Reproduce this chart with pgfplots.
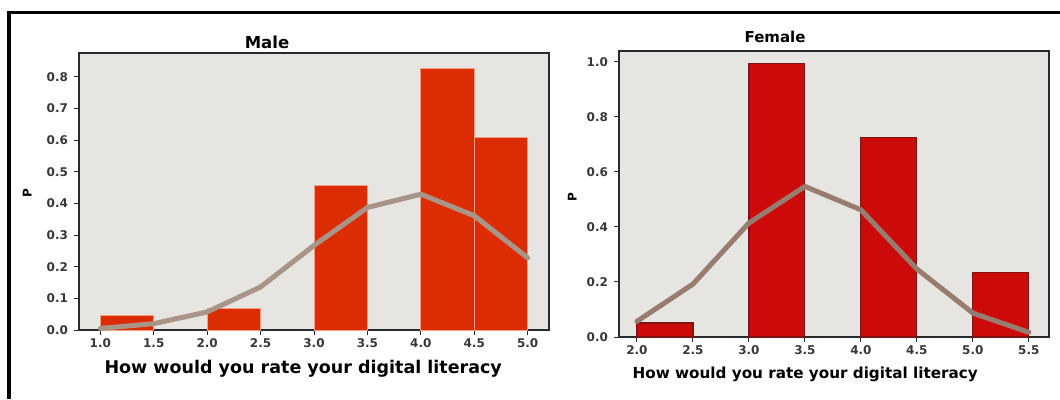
\documentclass[border=0pt]{standalone}
\usepackage{fontspec}
\setmainfont{DejaVu Sans}
\usepackage{pgfplots}
\pgfplotsset{compat=1.18}

\definecolor{panelbg}{HTML}{E7E5E1}
\definecolor{malebar}{HTML}{DC2C04}
\definecolor{maleedge}{HTML}{F2A080}
\definecolor{femalebar}{HTML}{CC0A0A}
\definecolor{femaleedge}{HTML}{7E1410}
\definecolor{maleline}{HTML}{A99488}
\definecolor{femaleline}{HTML}{987C70}
\definecolor{axisgray}{HTML}{2A2A2A}

\pgfplotsset{
  panel/.style={
    scale only axis,
    anchor=south west,
    axis background/.style={fill=panelbg},
    axis line style={line width=1.2pt, axisgray},
    tick pos=left,
    tick align=outside,
    major tick length=5pt,
    tick style={line width=1pt, axisgray},
    ticklabel style={font=\bfseries\fontsize{12}{12}\selectfont, text=black!78,
      /pgf/number format/assume math mode=true,
      /pgf/number format/fixed, /pgf/number format/fixed zerofill,
      /pgf/number format/precision=1},
    yticklabel style={xshift=-2.5pt},
    title style={anchor=center, font=\bfseries},
    xlabel style={anchor=center, font=\bfseries},
    ylabel style={anchor=center, font=\bfseries\fontsize{12}{12}\selectfont},
  },
  bins/.style={ybar, bar width=0.5},
  curve/.style={line width=5pt, line join=round, line cap=round},
}

\begin{document}
\begin{tikzpicture}
\useasboundingbox (0pt,0pt) rectangle (1060pt,399pt);
\draw[line width=3.5pt] (9pt,0pt) -- (9pt,386.5pt) -- (1060pt,386.5pt);

% Male respondents
\begin{axis}[panel,
  at={(79pt,69pt)}, width=470pt, height=277pt,
  xmin=0.8, xmax=5.2, ymin=0, ymax=0.875,
  xtick={1.0,1.5,...,5.0},
  ytick={0,0.1,...,0.8},
  title={\fontsize{16.5}{17}\selectfont Male},
  title style={at={(axis description cs:0.40,1.015)}},
  xlabel={\fontsize{17.5}{18}\selectfont How would you rate your digital literacy},
  xlabel style={at={(axis description cs:0.477,-0.14)}},
  ylabel={P},
  ylabel style={at={(axis description cs:-0.11,0.495)}},
]
\addplot[bins, fill=malebar, draw=maleedge, line width=0.8pt]
  coordinates {(1.25,0.046) (2.25,0.067) (3.25,0.457) (4.25,0.826) (4.75,0.609)};
\addplot[curve, maleline]
  coordinates {(1.0,0.005) (1.5,0.020) (2.0,0.057) (2.5,0.136) (3.0,0.267)
               (3.5,0.387) (4.0,0.429) (4.5,0.361) (5.0,0.228)};
\end{axis}

% Female respondents
\begin{axis}[panel,
  at={(619pt,62pt)}, width=430pt, height=286pt,
  xmin=1.84, xmax=5.68, ymin=0, ymax=1.039,
  xtick={2.0,2.5,...,5.5},
  ytick={0,0.2,...,1.0},
  title={\fontsize{15}{15}\selectfont Female},
  title style={at={(axis description cs:0.363,1.028)}},
  xlabel={\fontsize{15.2}{16}\selectfont How would you rate your digital literacy},
  xlabel style={at={(axis description cs:0.433,-0.13)}},
  ylabel={P},
  ylabel style={at={(axis description cs:-0.109,0.49)}},
]
\addplot[bins, fill=femalebar, draw=femaleedge, line width=1.2pt]
  coordinates {(2.25,0.051) (3.25,0.994) (4.25,0.724) (5.25,0.235)};
\addplot[curve, femaleline]
  coordinates {(2.0,0.057) (2.5,0.192) (3.0,0.414) (3.5,0.547) (4.0,0.462)
               (4.5,0.247) (5.0,0.087) (5.5,0.017)};
\end{axis}
\end{tikzpicture}
\end{document}
